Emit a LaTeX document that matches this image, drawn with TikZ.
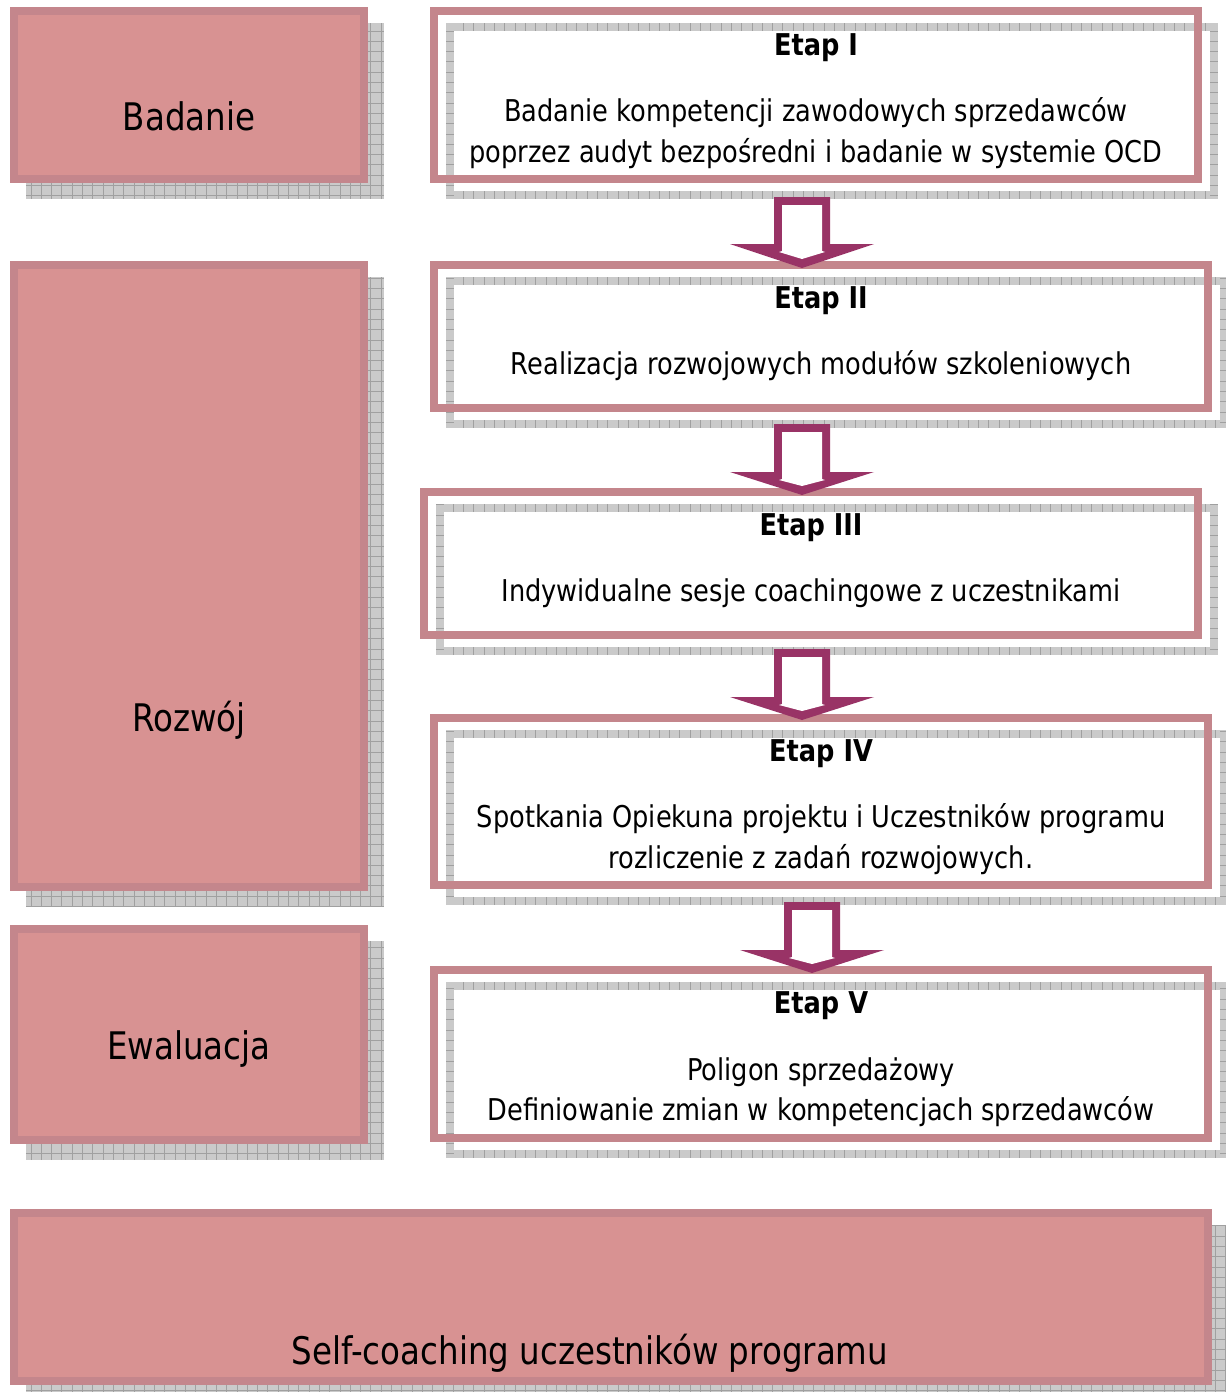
\documentclass[tikz,border=0pt]{standalone}
\usepackage{fontspec}
\setmainfont{DejaVu Sans}[FakeStretch=0.855]
\definecolor{pinkborder}{RGB}{196,134,140}
\definecolor{pinkfill}{RGB}{216,146,146}
\definecolor{arrowpurple}{RGB}{153,51,102}
\definecolor{shgray}{RGB}{202,202,202}
\definecolor{shlinec}{RGB}{160,160,160}
\tikzset{
  shline/.style={draw=shlinec,line width=0.7pt},
  leftbox/.style={draw=pinkborder,fill=pinkfill,line width=8pt,inner sep=0pt,outer sep=0pt},
  etapframe/.style={draw=pinkborder,line width=8pt,inner sep=0pt,outer sep=0pt},
  bodytxt/.style={anchor=base,inner sep=0pt,font=\fontsize{30}{36}\selectfont},
  titletxt/.style={anchor=base,inner sep=0pt,font=\fontsize{30}{36}\selectfont\bfseries},
  bigtxt/.style={anchor=base,inner sep=0pt,font=\fontsize{38}{44}\selectfont},
  blockout/.style={fill=arrowpurple,draw=none},
  blockin/.style={fill=white,draw=none}
}
% shadow pieces
\newcommand\shv[4]{\begin{scope}\clip ({#1},{#2}) rectangle ({#3},{#4});
  \fill[shgray] ({#1},{#2}) rectangle ({#3},{#4});
  \foreach \k in {0,...,120}{\draw[shline] ({10.3*\k},{#2}) -- ({10.3*\k},{#4});}
  \end{scope}}
\newcommand\shh[4]{\begin{scope}\clip ({#1},{#2}) rectangle ({#3},{#4});
  \fill[shgray] ({#1},{#2}) rectangle ({#3},{#4});
  \foreach \k in {0,...,137}{\draw[shline] ({#1},{10.3*\k}) -- ({#3},{10.3*\k});}
  \end{scope}}
\newcommand\shfull[4]{\begin{scope}\clip ({#1},{#2}) rectangle ({#3},{#4});
  \fill[shgray] ({#1},{#2}) rectangle ({#3},{#4});
  \foreach \k in {0,...,120}{\draw[shline] ({10.3*\k},{#2}) -- ({10.3*\k},{#4});}
  \foreach \k in {0,...,137}{\draw[shline] ({#1},{10.3*\k}) -- ({#3},{10.3*\k});}
  \end{scope}}
\newcommand\shband[4]{%
  \shv{#1}{#2}{#3}{#2+8}%
  \shv{#1}{#4-8}{#3}{#4}%
  \shh{#1}{#2}{#1+8}{#4}%
  \shh{#3-8}{#2}{#3}{#4}}
% block arrow: cx, top, base, tip
\newcommand\blockarrow[4]{%
  \fill[blockout] ({#1-28},{#2}) -- ({#1+28},{#2}) -- ({#1+28},{#3}) -- ({#1+72},{#3})
     -- ({#1},{#4}) -- ({#1-72},{#3}) -- ({#1-28},{#3}) -- cycle;
  \fill[blockin] ({#1-20},{#2+8}) -- ({#1+20},{#2+8}) -- ({#1+20},{#3+7}) -- ({#1+23},{#3+8})
     -- ({#1},{#4-9}) -- ({#1-23},{#3+8}) -- ({#1-20},{#3+7}) -- cycle;}
\begin{document}
\begin{tikzpicture}[x=1pt,y=-1pt]
\useasboundingbox (0,0) rectangle (1226,1392);
\fill[white] (0,0) rectangle (1226,1392);
% shadows
\shfull{26}{23}{384}{199}
\shfull{26}{277}{384}{907}
\shfull{26}{941}{384}{1160}
\shfull{26}{1225}{1228}{1401}
\shband{446}{23}{1218}{199}
\shband{446}{277}{1228}{428}
\shband{436}{504}{1218}{655}
\shband{446}{730}{1228}{905}
\shband{446}{982}{1228}{1158}
% left boxes
\node[leftbox,minimum width=350,minimum height=168] (badanie) at (189,95) {};
\node[leftbox,minimum width=350,minimum height=622] (rozwoj) at (189,576) {};
\node[leftbox,minimum width=350,minimum height=211] (ewaluacja) at (189,1034.5) {};
\node[leftbox,minimum width=1194,minimum height=168] (self) at (611,1297) {};
% etap frames
\node[etapframe,minimum width=764,minimum height=168] (e1) at (816,95) {};
\node[etapframe,minimum width=774,minimum height=143] (e2) at (821,336.5) {};
\node[etapframe,minimum width=774,minimum height=143] (e3) at (811,563.5) {};
\node[etapframe,minimum width=774,minimum height=167] (e4) at (821,801.5) {};
\node[etapframe,minimum width=774,minimum height=168] (e5) at (821,1054) {};
% arrows
\blockarrow{802}{197}{244}{268}
\blockarrow{802}{424}{472}{495}
\blockarrow{802}{649}{697}{720}
\blockarrow{812}{902}{950}{973}
% left labels
\node[bigtxt] (tbad) at (189,130) {Badanie};
\node[bigtxt] (troz) at (189,731) {Rozwój};
\node[bigtxt] (tewa) at (189,1059) {Ewaluacja};
\node[bigtxt] (tself) at (590,1364) {Self-coaching uczestników programu};
% etap texts
\node[titletxt] (t1) at (816,55) {Etap I};
\node[bodytxt] (b1a) at (816,121) {Badanie kompetencji zawodowych sprzedawców};
\node[bodytxt] (b1b) at (816,162) {poprzez audyt bezpośredni i badanie w systemie OCD};
\node[titletxt] (t2) at (821,308) {Etap II};
\node[bodytxt] (b2) at (821,374) {Realizacja rozwojowych modułów szkoleniowych};
\node[titletxt] (t3) at (811,535) {Etap III};
\node[bodytxt] (b3) at (811,601) {Indywidualne sesje coachingowe z uczestnikami};
\node[titletxt] (t4) at (821,761) {Etap IV};
\node[bodytxt] (b4a) at (821,827) {Spotkania Opiekuna projektu i Uczestników programu};
\node[bodytxt] (b4b) at (821,868) {rozliczenie z zadań rozwojowych.};
\node[titletxt] (t5) at (821,1013) {Etap V};
\node[bodytxt] (b5a) at (821,1080) {Poligon sprzedażowy};
\node[bodytxt] (b5b) at (821,1120) {Definiowanie zmian w kompetencjach sprzedawców};
\end{tikzpicture}
\end{document}
